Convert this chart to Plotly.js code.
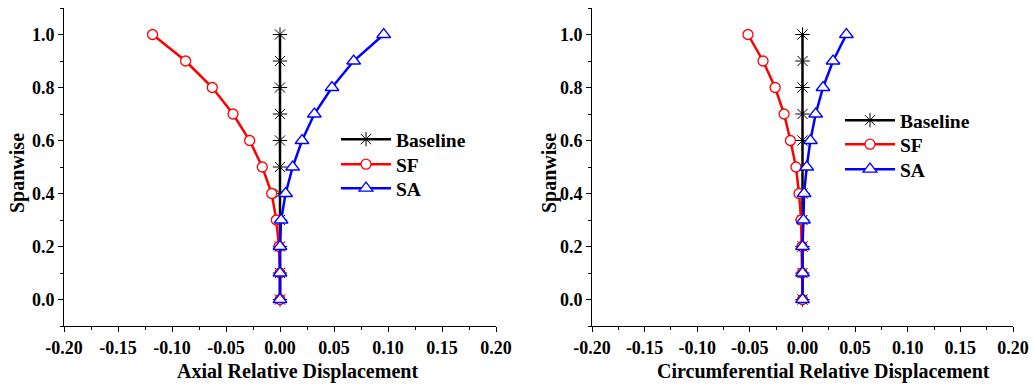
<!DOCTYPE html>
<html>
<head>
<meta charset="utf-8">
<script src="https://cdn.plot.ly/plotly-3.0.1.min.js"></script>
<style>html,body{margin:0;padding:0;background:#fff;}#chart{width:1033px;height:391px;}</style>
</head>
<body>
<div id="chart"></div>
<script>
const spanwise = [0.0, 0.1, 0.2, 0.3, 0.4, 0.5, 0.6, 0.7, 0.8, 0.9, 1.0];
const axialBaseline = [0, 0, 0, 0, 0, 0, 0, 0, 0, 0, 0];
const axialSF = [0.0, 0.0, -0.001, -0.0034, -0.0077, -0.0164, -0.0281, -0.0435, -0.0627, -0.0874, -0.118];
const axialSA = [0.0, 0.0, 0.0, 0.001, 0.0052, 0.0117, 0.0204, 0.0318, 0.0481, 0.0682, 0.096];
const circBaseline = [0, 0, 0, 0, 0, 0, 0, 0, 0, 0, 0];
const circSF = [0.0, -0.0003, -0.0005, -0.0013, -0.0033, -0.0062, -0.0115, -0.0175, -0.026, -0.0375, -0.0518];
const circSA = [0.0, 0.0, 0.0, 0.0009, 0.0015, 0.004, 0.0075, 0.0125, 0.0195, 0.029, 0.0417];
const seriesNames = ['Baseline', 'SF', 'SA'];
const xTitles = ['Axial Relative Displacement', 'Circumferential Relative Displacement'];
const yTitle = 'Spanwise';
const xTickVals = [-0.2, -0.15, -0.1, -0.05, 0, 0.05, 0.1, 0.15, 0.2];
const xTickText = ['-0.20', '-0.15', '-0.10', '-0.05', '0.00', '0.05', '0.10', '0.15', '0.20'];
const yTickVals = [0, 0.2, 0.4, 0.6, 0.8, 1.0];
const yTickText = ['0.0', '0.2', '0.4', '0.6', '0.8', '1.0'];

const FONT = 'Liberation Serif, Times New Roman, serif';
const colors = ['#000000', '#ff0000', '#0000ff'];

function makeTraces(xs, xa, ya, legends) {
  const markers = [
    {symbol: 'asterisk-open', size: 12, color: '#000', line: {color: '#000', width: 1}},
    {symbol: 'circle', size: 10, color: '#fff', line: {color: '#ff0000', width: 1.3}},
    {symbol: 'triangle-up', size: 12, color: '#fff', line: {color: '#0000ff', width: 1.3}}
  ];
  return xs.map((x, i) => ({
    type: 'scatter', mode: 'lines+markers', name: seriesNames[i],
    x: x, y: spanwise, xaxis: xa, yaxis: ya, legend: legends[i],
    line: {color: colors[i], width: 2.5},
    marker: markers[i], cliponaxis: false
  }));
}

const traces = [].concat(
  makeTraces([axialBaseline, axialSF, axialSA], 'x', 'y', ['legend', 'legend2', 'legend3']),
  makeTraces([circBaseline, circSF, circSA], 'x2', 'y2', ['legend4', 'legend5', 'legend6'])
);

function xAxis(domain, anchor) {
  return {
    domain: domain, anchor: anchor, range: [-0.2, 0.2],
    tickmode: 'array', tickvals: xTickVals, ticktext: xTickText,
    ticks: 'outside', ticklen: 5, tickwidth: 1, tickcolor: '#000',
    minor: {tickmode: 'linear', tick0: 0, dtick: 0.025, ticks: 'outside', ticklen: 3, tickwidth: 1, tickcolor: '#000', showgrid: false},
    showline: true, linecolor: '#000', linewidth: 1, showgrid: false, zeroline: false,
    tickfont: {family: FONT, size: 18, color: '#000', weight: 'bold'},
    automargin: false
  };
}
function yAxis(domain, anchor) {
  return {
    domain: domain, anchor: anchor, range: [-0.1, 1.1],
    tickmode: 'array', tickvals: yTickVals, ticktext: yTickText,
    ticks: 'outside', ticklen: 5, tickwidth: 1, tickcolor: '#000',
    minor: {tickmode: 'linear', tick0: 0, dtick: 0.1, ticks: 'outside', ticklen: 3, tickwidth: 1, tickcolor: '#000', showgrid: false},
    showline: true, linecolor: '#000', linewidth: 1, showgrid: false, zeroline: false,
    tickfont: {family: FONT, size: 18, color: '#000', weight: 'bold'},
    automargin: false
  };
}

const W = 1033;
function px(p) { return p / W; }
function py(p) { return 1 - (p - 8) / 318; }
const titleFont = {family: FONT, size: 20, color: '#000', weight: 'bold'};
const annotations = [
  {text: '<b>' + xTitles[0] + '</b>', x: px(297), y: py(371), xref: 'paper', yref: 'paper', xanchor: 'center', yanchor: 'middle', showarrow: false, font: titleFont},
  {text: '<b>' + xTitles[1] + '</b>', x: px(823), y: py(371), xref: 'paper', yref: 'paper', xanchor: 'center', yanchor: 'middle', showarrow: false, font: titleFont},
  {text: '<b>' + yTitle + '</b>', x: px(17), y: py(173), xref: 'paper', yref: 'paper', xanchor: 'center', yanchor: 'middle', showarrow: false, textangle: -90, font: titleFont},
  {text: '<b>' + yTitle + '</b>', x: px(549), y: py(173), xref: 'paper', yref: 'paper', xanchor: 'center', yanchor: 'middle', showarrow: false, textangle: -90, font: titleFont}
];
function leg(xp, center) {
  return {x: px(xp), y: py(center - 20), xanchor: 'left', yanchor: 'top', bgcolor: 'rgba(0,0,0,0)',
    font: {family: FONT, size: 19.5, color: '#000', weight: 'bold'}, itemwidth: 50};
}
const layout = {
  width: 1033, height: 391,
  margin: {l: 0, r: 0, t: 8, b: 65},
  paper_bgcolor: '#fff', plot_bgcolor: '#fff',
  showlegend: true,
  xaxis: xAxis([64 / W, 496 / W], 'y'),
  yaxis: yAxis([0, 1], 'x'),
  xaxis2: xAxis([592 / W, 1013 / W], 'y2'),
  yaxis2: yAxis([0, 1], 'x2'),
  annotations: annotations,
  legend: leg(336, 140),
  legend2: leg(336, 165),
  legend3: leg(336, 189),
  legend4: leg(840, 121),
  legend5: leg(840, 145),
  legend6: leg(840, 170)
};

Plotly.newPlot('chart', traces, layout, {displayModeBar: false, staticPlot: true});
</script>
</body>
</html>
